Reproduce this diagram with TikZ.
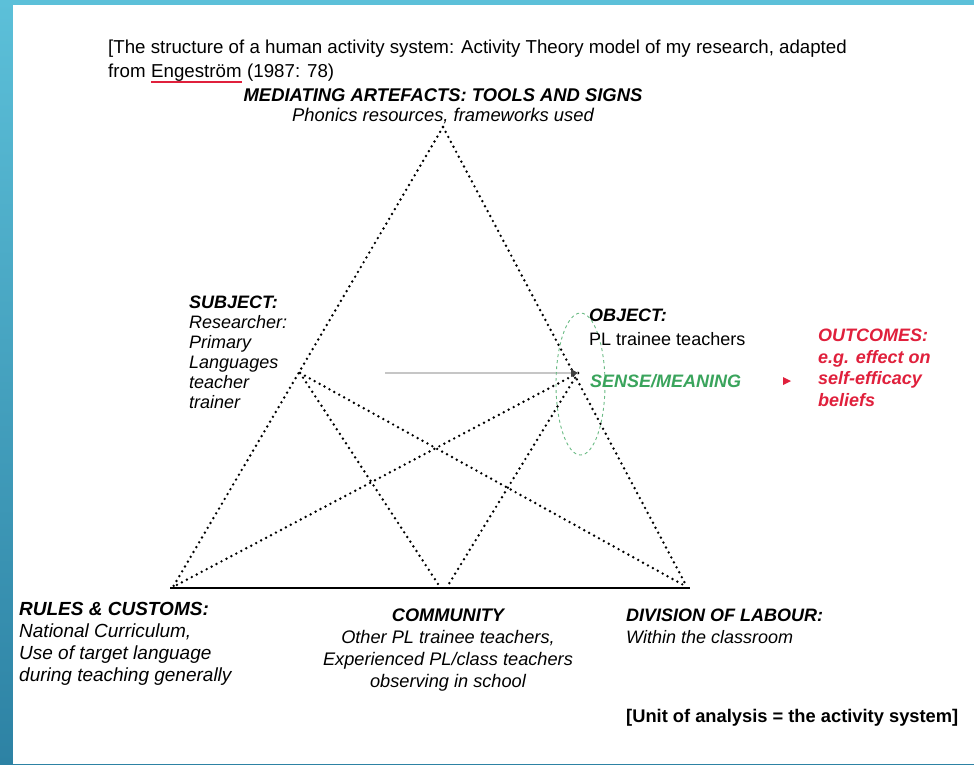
\documentclass[tikz,border=0pt]{standalone}
\usepackage{fontspec}
\setmainfont{Liberation Sans}
\usetikzlibrary{arrows.meta,calc}
\definecolor{bgtop}{HTML}{5CC0D9}
\definecolor{bgbot}{HTML}{2D82A4}
\definecolor{sensegreen}{HTML}{3AA45C}
\definecolor{outred}{HTML}{E0203C}
\tikzset{
  lbl/.style={inner sep=0pt, font=\fontsize{18}{20}\selectfont, align=left, anchor=north west},
  ttl/.style={inner sep=0pt, font=\fontsize{18.7}{24}\selectfont, anchor=base west},
  dotline/.style={line width=2.7pt, line cap=round, dash pattern=on 0pt off 5.6pt},
  baseline/.style={line width=2.4pt},
}
\begin{document}
\begin{tikzpicture}[x=1pt,y=-1pt]
\useasboundingbox (0,0) rectangle (974,764);
\shade[top color=bgtop, bottom color=bgbot] (0,0) rectangle (974,764);
\fill[white] (13,5) rectangle (974,764);

% vertices
\coordinate (apex) at (443,127);
\coordinate (bl) at (173,587);
\coordinate (br) at (687,587);
\coordinate (cm1) at (440,587);
\coordinate (cm2) at (447,587);
\coordinate (subj) at (300,373);
\coordinate (obj) at (578,373);
\coordinate (gstart) at (385,373);
\coordinate (bl0) at (170,588);
\coordinate (br0) at (690,588);

% title
\node[ttl] (title1) at (108,53.5)
  {[The structure of a human activity system: Activity Theory model of my research, adapted};
\node[ttl] (title2a) at (108,77.5) {from};
\node[ttl] (eng) at ($(title2a.base east)+(5.2,0)$) {Engeström};
\node[ttl] (title2b) at (eng.base east) {\ (1987: 78)};
\draw[outred, line width=1.4pt] ($(eng.base west)+(0,4.5)$) -- ($(eng.base east)+(0,4.5)$);

\node[lbl, anchor=north, align=center, font=\fontsize{18.4}{20}\selectfont] (med) at (443,88)
  {{\bfseries\itshape MEDIATING ARTEFACTS: TOOLS AND SIGNS}\\{\itshape Phonics resources, frameworks used}};

% triangle
\draw[dotline] (apex) -- (bl);
\draw[dotline] (apex) -- (br);
\draw[baseline] (bl0) -- (br0);
\draw[dotline] (subj) -- (cm1);
\draw[dotline] (subj) -- (br);
\draw[dotline] (obj) -- (bl);
\draw[dotline] (obj) -- (cm2);
\draw[gray!45, line width=1.2pt] (gstart) -- (obj);
\fill[black!75] (obj) ++(-7,-4) -- (obj) -- ++(-7,4) -- cycle;

% sense ellipse
\draw[sensegreen!75, dashed, line width=0.9pt] (580.5,384) ellipse [x radius=24.5, y radius=71];

% subject
\node[lbl, font=\fontsize{18}{20}\selectfont\itshape] (subject) at (189,296)
  {\textbf{SUBJECT:}\\Researcher:\\Primary\\Languages\\teacher\\trainer};

% object
\node[lbl, font=\fontsize{18}{24}\selectfont] (object) at (589,309)
  {\textbf{\itshape OBJECT:}\\PL trainee teachers};
\node[lbl, anchor=west, text=sensegreen, font=\fontsize{18}{20}\selectfont\bfseries\itshape] (sense) at (590,381)
  {SENSE/MEANING};

% outcomes
\node[lbl, text=outred, font=\fontsize{18}{21.5}\selectfont\bfseries\itshape] (outcomes) at (818,329)
  {OUTCOMES:\\e.g. effect on\\self-efficacy\\beliefs};
\fill[outred] (783,377) -- (791,381) -- (783,385) -- cycle;

% bottom labels
\node[lbl, font=\fontsize{19}{22}\selectfont\itshape] (rules) at (19,602)
  {\textbf{RULES \& CUSTOMS:}\\National Curriculum,\\Use of target language\\during teaching generally};
\node[lbl, anchor=north, align=center, font=\fontsize{18.2}{22}\selectfont\itshape] (community) at (448,609)
  {\textbf{COMMUNITY}\\Other PL trainee teachers,\\Experienced PL/class teachers\\observing in school};
\node[lbl, font=\fontsize{18}{22}\selectfont\itshape] (division) at (626,609)
  {\textbf{DIVISION OF LABOUR:}\\Within the classroom};
\node[lbl, anchor=base west, font=\fontsize{18.3}{20}\selectfont\bfseries] (unit) at (626,722)
  {[Unit of analysis = the activity system]};
\end{tikzpicture}
\end{document}
